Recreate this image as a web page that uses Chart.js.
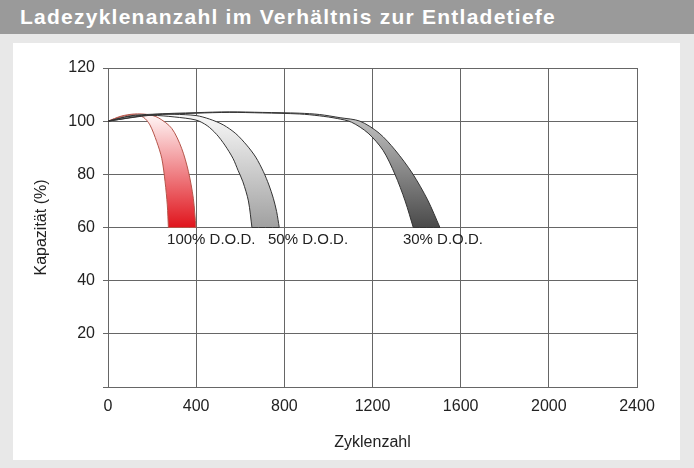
<!DOCTYPE html>
<html>
<head>
<meta charset="utf-8">
<script src="https://cdn.jsdelivr.net/npm/chart.js@4.4.1/dist/chart.umd.min.js"></script>
<style>
    html, body { margin: 0; padding: 0; }
    body { width: 694px; height: 468px; background: #e8e8e8; position: relative; overflow: hidden; font-family: "Liberation Sans", Arial, sans-serif; }
    #title { position: absolute; left: 0; top: 0; width: 694px; height: 34px; background: #9a9a9a; }
    #title span { position: absolute; left: 20px; top: 0; line-height: 34px; font-size: 21px; font-weight: bold; color: #fff; white-space: nowrap; }
    #panel { position: absolute; left: 13px; top: 43px; width: 667px; height: 417px; background: #fff; }
    #chart { position: absolute; left: 0; top: 0; }
</style>
</head>
<body>
<div id="title"><span id="title-text">Ladezyklenanzahl im Verhältnis zur Entladetiefe</span></div>
<div id="panel"><canvas id="chart" width="667" height="417"></canvas></div>
<script>
// Kurven: jeweils innere (linke) und aeussere (rechte) Kante des Bandes
var dod100InnerX = [0, 60, 115, 160, 190, 221, 244, 259, 269, 274];
var dod100InnerY = [100, 101.7, 102.4, 101.5, 98.6, 92.3, 86, 77.2, 68.5, 60];
var dod100OuterX = [0, 60, 120, 180, 228, 289, 334, 365, 387, 399];
var dod100OuterY = [100, 101.9, 102.7, 102.5, 101.3, 97.3, 89.8, 81, 71, 60];

var dod50InnerX = [0, 100, 200, 300, 400, 450, 493, 530, 567, 590, 612, 637, 653];
var dod50InnerY = [100, 101.8, 102.2, 101.6, 100.4, 98.3, 95, 91, 86, 81.5, 77.2, 70, 60];
var dod50OuterX = [0, 100, 200, 300, 400, 460, 523, 580, 629, 670, 705, 730, 750, 765, 777];
var dod50OuterY = [100, 102, 102.6, 102.6, 102.1, 100.8, 98.6, 95.3, 91, 86.5, 81, 76, 71, 66, 60];

var dod30InnerX = [0, 200, 400, 550, 700, 870, 960, 1040, 1105, 1180, 1248, 1302, 1348, 1385];
var dod30InnerY = [100, 102.3, 103, 103.3, 103.1, 102.7, 102, 101, 99.6, 95.5, 89, 80, 70, 60];
var dod30OuterX = [0, 200, 400, 550, 700, 870, 960, 1053, 1143, 1230, 1302, 1380, 1450, 1506];
var dod30OuterY = [100, 102.5, 103.2, 103.5, 103.3, 103, 102.5, 101.3, 100, 95.5, 89.2, 80.5, 70.4, 60];

var bandLabels = ['100% D.O.D.', '50% D.O.D.', '30% D.O.D.'];
var bandLabelX = [268, 726, 1338];
var bandLabelY = 55.3;

var xTicks = [0, 400, 800, 1200, 1600, 2000, 2400];
var yTicks = [0, 20, 40, 60, 80, 100, 120];

// Titel auf die Breite der Vorlage ziehen
var t = document.getElementById('title-text');
var w = t.getBoundingClientRect().width;
t.style.letterSpacing = ((536 - w) / t.textContent.length) + 'px';

// geschlossenes Band: innere Kante runter, aeussere Kante wieder hoch
// (Eckpunkte unten doppelt, damit die Kurve dort nicht ueberschwingt)
function band(innerX, innerY, outerX, outerY) {
    var pts = [];
    for (var i = 0; i < innerX.length; i++) pts.push({x: innerX[i], y: innerY[i]});
    pts.push({x: innerX[innerX.length - 1], y: innerY[innerY.length - 1]});
    pts.push({x: outerX[outerX.length - 1], y: outerY[outerY.length - 1]});
    for (var j = outerX.length - 1; j >= 0; j--) pts.push({x: outerX[j], y: outerY[j]});
    return pts;
}

function gradient(top, bottom) {
    return function (c) {
        var chart = c.chart;
        if (!chart.chartArea) return top;
        var y = chart.scales.y;
        var g = chart.ctx.createLinearGradient(0, y.getPixelForValue(102), 0, y.getPixelForValue(60));
        g.addColorStop(0, top);
        g.addColorStop(1, bottom);
        return g;
    };
}

var labelPlugin = {
    id: 'bandLabels',
    afterDatasetsDraw: function (chart) {
        var ctx = chart.ctx;
        ctx.save();
        ctx.font = '15px "Liberation Sans", Arial, sans-serif';
        ctx.fillStyle = '#222';
        ctx.textAlign = 'left';
        ctx.textBaseline = 'middle';
        for (var i = 0; i < bandLabels.length; i++) {
            ctx.fillText(bandLabels[i], chart.scales.x.getPixelForValue(bandLabelX[i]), chart.scales.y.getPixelForValue(bandLabelY));
        }
        ctx.restore();
    }
};

var font = { size: 16, family: '"Liberation Sans", Arial' };

var ctx = document.getElementById('chart');
var chart = new Chart(ctx, {
    type: 'scatter',
    data: {
        datasets: [{
            label: '30% D.O.D.',
            data: band(dod30InnerX, dod30InnerY, dod30OuterX, dod30OuterY),
            backgroundColor: gradient('#c4c4c4', '#4a4a4a'),
            borderColor: '#333'
        }, {
            label: '50% D.O.D.',
            data: band(dod50InnerX, dod50InnerY, dod50OuterX, dod50OuterY),
            backgroundColor: gradient('#f7f7f7', '#a0a0a0'),
            borderColor: '#333'
        }, {
            label: '100% D.O.D.',
            data: band(dod100InnerX, dod100InnerY, dod100OuterX, dod100OuterY),
            backgroundColor: gradient('#fff4f4', '#e0141c'),
            borderColor: '#b5554a'
        }]
    },
    options: {
        responsive: false,
        animation: false,
        layout: { padding: { left: 0, right: 43, top: 25, bottom: 0 } },
        elements: {
            line: { borderWidth: 1, tension: 0.3, fill: 'shape' },
            point: { radius: 0, hoverRadius: 0 }
        },
        datasets: { scatter: { showLine: true } },
        plugins: { legend: { display: false }, tooltip: { enabled: false } },
        scales: {
            x: {
                type: 'linear',
                min: 0,
                max: 2400,
                afterFit: function (s) { s.height = 73; },
                afterBuildTicks: function (s) { s.ticks = xTicks.map(function (v) { return {value: v}; }); },
                grid: { color: '#666', drawTicks: false },
                border: { color: '#666' },
                ticks: { padding: 10, color: '#222', font: font, callback: function (v) { return String(v); } },
                title: { display: true, text: 'Zyklenzahl', color: '#222', padding: { top: 0, bottom: 8 }, font: font }
            },
            y: {
                min: 0,
                max: 120,
                afterFit: function (s) { s.width = 95; },
                afterBuildTicks: function (s) { s.ticks = yTicks.map(function (v) { return {value: v}; }); },
                grid: { color: '#666', tickLength: 5 },
                border: { color: '#666' },
                ticks: {
                    padding: 8,
                    color: '#222',
                    font: font,
                    callback: function (v) { return v === 0 ? '' : String(v); }
                },
                title: { display: true, text: 'Kapazität (%)', color: '#222', padding: { top: 19, bottom: 0 }, font: font }
            }
        }
    },
    plugins: [labelPlugin]
});
</script>
</body>
</html>
